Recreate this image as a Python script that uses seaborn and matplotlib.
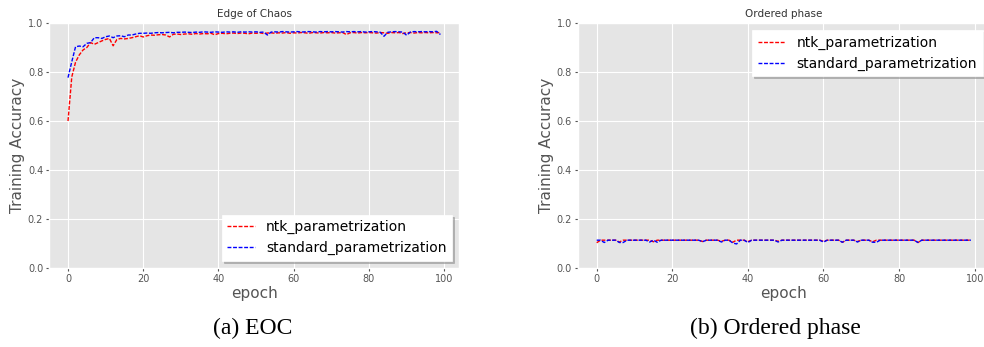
import matplotlib
matplotlib.use('Agg')
import matplotlib.pyplot as plt
import seaborn as sns
import pandas as pd

# epochs 0..99
epochs = list(range(100))

# Edge of Chaos - training accuracy
eoc_ntk = [0.600, 0.780, 0.840, 0.870, 0.890, 0.900, 0.920, 0.913, 0.920, 0.927,
           0.933, 0.937, 0.907, 0.933, 0.937, 0.935, 0.937, 0.940, 0.944, 0.948,
           0.943, 0.948, 0.951, 0.950, 0.952, 0.953, 0.951, 0.943, 0.954, 0.955,
           0.953, 0.955, 0.956, 0.954, 0.957, 0.955, 0.957, 0.956, 0.958, 0.952,
           0.957, 0.958, 0.956, 0.958, 0.959, 0.957, 0.959, 0.958, 0.956, 0.959,
           0.958, 0.960, 0.957, 0.959, 0.960, 0.958, 0.960, 0.959, 0.961, 0.958,
           0.960, 0.959, 0.961, 0.960, 0.958, 0.961, 0.960, 0.959, 0.961, 0.960,
           0.961, 0.959, 0.960, 0.961, 0.953, 0.960, 0.961, 0.959, 0.961, 0.960,
           0.961, 0.960, 0.959, 0.961, 0.960, 0.958, 0.961, 0.960, 0.961, 0.957,
           0.960, 0.961, 0.959, 0.961, 0.960, 0.961, 0.960, 0.961, 0.960, 0.961]
eoc_std = [0.777, 0.842, 0.903, 0.906, 0.903, 0.917, 0.920, 0.940, 0.940, 0.937,
           0.944, 0.947, 0.940, 0.947, 0.948, 0.944, 0.951, 0.951, 0.955, 0.958,
           0.958, 0.959, 0.958, 0.960, 0.961, 0.960, 0.961, 0.962, 0.960, 0.962,
           0.962, 0.963, 0.962, 0.961, 0.963, 0.962, 0.964, 0.963, 0.962, 0.964,
           0.963, 0.962, 0.964, 0.963, 0.964, 0.962, 0.964, 0.963, 0.964, 0.963,
           0.964, 0.962, 0.963, 0.951, 0.963, 0.964, 0.963, 0.965, 0.964, 0.963,
           0.964, 0.965, 0.963, 0.964, 0.965, 0.964, 0.963, 0.965, 0.964, 0.965,
           0.964, 0.965, 0.964, 0.963, 0.965, 0.964, 0.965, 0.964, 0.965, 0.963,
           0.964, 0.965, 0.964, 0.962, 0.946, 0.962, 0.964, 0.965, 0.964, 0.963,
           0.950, 0.963, 0.965, 0.964, 0.965, 0.964, 0.965, 0.964, 0.966, 0.953]

# Ordered phase - training accuracy
ord_ntk = [0.103, 0.1135, 0.1135, 0.1135, 0.1135, 0.1135, 0.106, 0.1135, 0.1135, 0.1135,
           0.1135, 0.1135, 0.1135, 0.1135, 0.1135, 0.107, 0.1135, 0.1135, 0.1135, 0.1135,
           0.1135, 0.1135, 0.1135, 0.1135, 0.1135, 0.1135, 0.1135, 0.1135, 0.108, 0.1135,
           0.1135, 0.1135, 0.1135, 0.109, 0.1135, 0.1135, 0.105, 0.1135, 0.1135, 0.1135,
           0.108, 0.1135, 0.1135, 0.1135, 0.1135, 0.1135, 0.1135, 0.1135, 0.109, 0.1135,
           0.1135, 0.1135, 0.1135, 0.1135, 0.1135, 0.1135, 0.1135, 0.1135, 0.1135, 0.1135,
           0.109, 0.1135, 0.1135, 0.1135, 0.1135, 0.105, 0.1135, 0.1135, 0.1135, 0.108,
           0.1135, 0.1135, 0.1135, 0.107, 0.1135, 0.1135, 0.1135, 0.1135, 0.1135, 0.1135,
           0.1135, 0.1135, 0.1135, 0.1135, 0.1135, 0.104, 0.1135, 0.1135, 0.1135, 0.1135,
           0.1135, 0.1135, 0.1135, 0.1135, 0.1135, 0.1135, 0.1135, 0.1135, 0.1135, 0.1135]
ord_std = [0.1135, 0.1135, 0.104, 0.1135, 0.1135, 0.1135, 0.104, 0.104, 0.1135, 0.1135,
           0.1135, 0.1135, 0.1135, 0.1135, 0.106, 0.1135, 0.105, 0.1135, 0.1135, 0.1135,
           0.1135, 0.1135, 0.1135, 0.1135, 0.1135, 0.1135, 0.1135, 0.1135, 0.107, 0.1135,
           0.1135, 0.1135, 0.1135, 0.106, 0.1135, 0.1135, 0.102, 0.098, 0.1135, 0.1135,
           0.104, 0.1135, 0.1135, 0.1135, 0.1135, 0.1135, 0.1135, 0.1135, 0.106, 0.1135,
           0.1135, 0.1135, 0.1135, 0.1135, 0.1135, 0.1135, 0.1135, 0.1135, 0.1135, 0.1135,
           0.106, 0.1135, 0.1135, 0.1135, 0.1135, 0.105, 0.1135, 0.1135, 0.1135, 0.106,
           0.1135, 0.1135, 0.1135, 0.105, 0.105, 0.1135, 0.1135, 0.1135, 0.1135, 0.1135,
           0.1135, 0.1135, 0.1135, 0.1135, 0.1135, 0.104, 0.1135, 0.1135, 0.1135, 0.1135,
           0.1135, 0.1135, 0.1135, 0.1135, 0.1135, 0.1135, 0.1135, 0.1135, 0.1135, 0.1135]

plt.style.use('ggplot')
fig = plt.figure(figsize=(9.84, 3.47), dpi=100)
ax1 = fig.add_axes([0.0502, 0.2277, 0.4163, 0.706])
ax2 = fig.add_axes([0.5874, 0.2277, 0.4183, 0.706])

panels = [(ax1, eoc_ntk, eoc_std, 'Edge of Chaos', 'lower right'),
          (ax2, ord_ntk, ord_std, 'Ordered phase', 'upper right')]

# short dashes like the original
dash = (0, (2.8, 1.2))

for ax, ntk, std, title, loc in panels:
    df = pd.DataFrame({'epoch': epochs, 'ntk': ntk, 'std': std})
    sns.lineplot(data=df, x='epoch', y='ntk', ax=ax, color='red', linestyle=dash,
                 linewidth=1.0, label='ntk_parametrization')
    sns.lineplot(data=df, x='epoch', y='std', ax=ax, color='blue', linestyle=dash,
                 linewidth=1.0, label='standard_parametrization')
    ax.set_ylim(0, 1.0)
    ax.set_xticks([0, 20, 40, 60, 80, 100])
    ax.set_yticks([0.0, 0.2, 0.4, 0.6, 0.8, 1.0])
    ax.tick_params(labelsize=7, colors='#555555', length=2.5, pad=2)
    ax.set_title(title, fontsize=7.5, color='#333333', pad=4)
    ax.set_xlabel('epoch', fontsize=11, color='#555555', labelpad=1)
    ax.set_ylabel('Training Accuracy', fontsize=11, color='#555555', labelpad=2)
    leg = ax.legend(loc=loc, fontsize=10, frameon=True, fancybox=False,
                    shadow={'ox': 1.5, 'oy': -1.5, 'color': '0.55', 'alpha': 0.6})
    leg.get_frame().set_facecolor('white')
    leg.get_frame().set_edgecolor('white')

fig.text(253 / 984, 1 - 328 / 347, '(a) EOC', family='Liberation Serif',
         fontsize=17, ha='center', va='center')
fig.text(775 / 984, 1 - 328 / 347, '(b) Ordered phase', family='Liberation Serif',
         fontsize=17, ha='center', va='center')

fig.savefig('out.png', dpi=100)
